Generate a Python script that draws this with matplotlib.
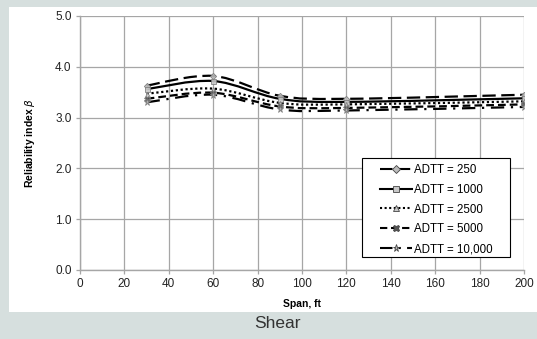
import matplotlib.pyplot as plt
from matplotlib.path import Path
from matplotlib.patches import PathPatch, Rectangle
from matplotlib.lines import Line2D

plt.rcParams['font.family'] = ['Liberation Sans', 'DejaVu Sans']

SPANS = [30, 60, 90, 120, 200]
BETA_250 = [3.63, 3.82, 3.43, 3.37, 3.45]
BETA_1000 = [3.56, 3.72, 3.37, 3.31, 3.38]
BETA_2500 = [3.47, 3.57, 3.29, 3.26, 3.32]
BETA_5000 = [3.37, 3.49, 3.22, 3.19, 3.26]
BETA_10000 = [3.30, 3.45, 3.16, 3.14, 3.21]
LABELS = ['ADTT = 250', 'ADTT = 1000', 'ADTT = 2500', 'ADTT = 5000', 'ADTT = 10,000']

SERIES = [BETA_250, BETA_1000, BETA_2500, BETA_5000, BETA_10000]
STYLES = [
    dict(ls=(0, (6, 2.5)), marker='D', ms=3.2, mfc='#bdbdbd'),
    dict(ls='-', marker='s', ms=3.6, mfc='#c8c8c8'),
    dict(ls=(0, (1, 1.2)), marker='^', ms=3.6, mfc='#c8c8c8'),
    dict(ls=(0, (3.5, 1.8)), marker='X', ms=4.2, mfc='#555555'),
    dict(ls=(0, (6, 3, 1, 3)), marker='*', ms=4.5, mfc='#bdbdbd'),
]


def smooth_path(xs, ys):
    # excel-like smoothed line: cubic bezier through every point
    pts = list(zip(xs, ys))
    ext = [pts[0]] + pts + [pts[-1]]
    verts = [pts[0]]
    codes = [Path.MOVETO]
    for i in range(len(pts) - 1):
        p0, p1, p2, p3 = ext[i], ext[i + 1], ext[i + 2], ext[i + 3]
        c1 = (p1[0] + (p2[0] - p0[0]) / 6, p1[1] + (p2[1] - p0[1]) / 6)
        c2 = (p2[0] - (p3[0] - p1[0]) / 6, p2[1] - (p3[1] - p1[1]) / 6)
        verts += [c1, c2, p2]
        codes += [Path.CURVE4] * 3
    return Path(verts, codes)


fig = plt.figure(figsize=(5.37, 3.39), dpi=100, facecolor='#d6dfde')
fig.patches.append(Rectangle((9 / 537, 1 - 312 / 339), 1 - 9 / 537, (312 - 7) / 339,
                             transform=fig.transFigure, facecolor='white',
                             edgecolor='none', zorder=-10))
ax = fig.add_axes([80 / 537, 1 - 270 / 339, 444 / 537, 254 / 339])
ax.set_facecolor('white')

handles = []
for ys, st, lab in zip(SERIES, STYLES, LABELS):
    ax.add_patch(PathPatch(smooth_path(SPANS, ys), fill=False, edgecolor='black',
                           lw=1.6, linestyle=st['ls'], zorder=3))
    ax.plot(SPANS, ys, linestyle='none', marker=st['marker'], ms=st['ms'],
            mfc=st['mfc'], mec='#7a7a7a', mew=0.6, zorder=4, alpha=0.9)
    handles.append(Line2D([], [], color='black', lw=1.5, linestyle=st['ls'],
                          marker=st['marker'], ms=st['ms'] + 0.6, mfc=st['mfc'],
                          mec='#444444', mew=0.6))

ax.set_xlim(0, 200)
ax.set_ylim(0, 5)
ax.set_xticks(range(0, 201, 20))
ax.set_yticks([0, 1, 2, 3, 4, 5])
ax.set_yticklabels(['0.0', '1.0', '2.0', '3.0', '4.0', '5.0'])
ax.grid(True, color='#a6a6a6', lw=0.9)
ax.set_axisbelow(True)
for side in ['top', 'right']:
    ax.spines[side].set_visible(False)
for side in ['left', 'bottom']:
    ax.spines[side].set_color('#a6a6a6')
    ax.spines[side].set_linewidth(1.0)
ax.tick_params(labelsize=8.5, colors='#a6a6a6', labelcolor='#222222', length=3, width=0.9, pad=3)

ax.set_xlabel('Span, ft', fontsize=7.5, fontweight='bold', labelpad=6)
ax.set_ylabel(r'Reliability index $\beta$', fontsize=7.5, fontweight='bold', labelpad=13)

# legend box drawn separately so the padding matches the original
ax.add_patch(Rectangle((0.635, 0.05), 0.333, 0.392, transform=ax.transAxes,
                       facecolor='white', edgecolor='black', lw=0.8, zorder=5))
leg = ax.legend(handles, LABELS, loc='upper left', bbox_to_anchor=(0.676, 0.418),
                fontsize=8.3, frameon=False, handlelength=2.75, handletextpad=0.2,
                labelspacing=0.68, borderpad=0, borderaxespad=0)
leg.set_zorder(6)

fig.text(277 / 537, 1 - 323 / 339, 'Shear', fontsize=12.5, color='#333333',
         ha='center', va='center')

fig.savefig('out.png', dpi=100, facecolor=fig.get_facecolor())
